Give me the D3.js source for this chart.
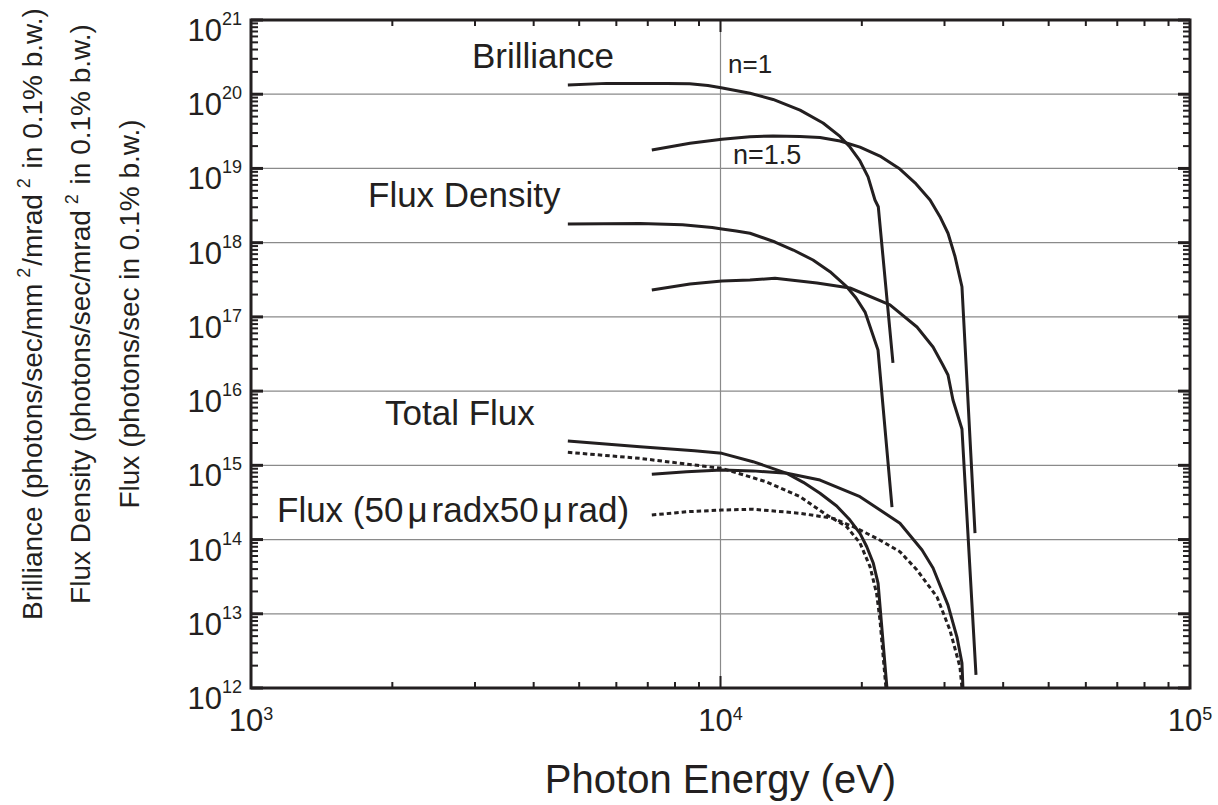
<!DOCTYPE html>
<html><head><meta charset="utf-8">
<script src="https://cdn.jsdelivr.net/npm/d3@7"></script>
<style>
body{margin:0;background:#fff}
text{font-family:"Liberation Sans",Arial,Helvetica,sans-serif;fill:#231f20}
</style>
</head><body>
<svg id="chart" width="1218" height="805"></svg>
<script>
// ---------- data ----------
const xDecades = [1e3, 1e4, 1e5];
const xExponents = ["3", "4", "5"];
const yDecades = [1e12,1e13,1e14,1e15,1e16,1e17,1e18,1e19,1e20,1e21];
const yExponents = ["12","13","14","15","16","17","18","19","20","21"];

const brillianceN1 = [[4730,1.33e20],[5720,1.40e20],[7690,1.40e20],[8600,1.38e20],[9400,1.31e20],[10030,1.22e20],[11560,1.03e20],[12940,8.5e19],[14770,6.1e19],[16535,4.1e19],[17970,2.7e19],[18870,1.94e19],[19820,1.26e19],[20620,7.7e18],[21330,3.76e18],[21680,3.05e18],[23300,2.4e16]];
const brillianceN15 = [[7140,1.77e19],[8610,2.18e19],[10070,2.47e19],[11555,2.67e19],[12940,2.74e19],[14770,2.69e19],[16290,2.61e19],[17970,2.34e19],[19820,1.94e19],[21860,1.47e19],[24110,9.8e18],[25960,6.4e18],[27950,3.76e18],[29340,2.24e18],[30520,1.34e18],[31590,6.5e17],[32680,2.55e17],[34840,1.22e14]];
const fluxDensityN1 = [[4730,1.78e18],[6740,1.81e18],[8300,1.74e18],[9600,1.6e18],[10070,1.53e18],[10800,1.44e18],[11555,1.34e18],[13065,1.02e18],[14290,7.96e17],[15740,5.84e17],[17110,4.06e17],[18590,2.53e17],[19440,1.8e17],[20320,1.16e17],[21650,3.58e16],[23190,2.74e14]];
const fluxDensityN15 = [[7140,2.3e17],[8610,2.77e17],[10070,3.04e17],[11555,3.14e17],[13065,3.31e17],[16050,2.86e17],[18870,2.45e17],[22960,1.45e17],[26210,7.3e16],[28360,3.93e16],[29700,2.3e16],[30520,1.65e16],[31270,7.6e15],[32680,3.09e15],[35010,1.5e12]];
const totalFluxN1 = [[4730,2.13e15],[6740,1.78e15],[8800,1.57e15],[10070,1.45e15],[11730,1.12e15],[13850,7.8e14],[15010,5.9e14],[16290,4.2e14],[17680,2.83e14],[18870,1.83e14],[19820,1.21e14],[20490,8.0e13],[21160,4.79e13],[21660,2.57e13],[22620,1e12]];
const totalFluxN15 = [[7140,7.57e14],[8470,8.2e14],[10070,8.65e14],[11730,8.42e14],[13850,7.8e14],[16290,6.34e14],[19820,3.78e14],[24110,1.66e14],[26870,7.23e13],[28360,4.14e13],[30520,1.31e13],[31890,4.86e12],[32680,2.17e12],[32840,1e12]];
const apertureFluxN1 = [[4730,1.5e15],[6740,1.24e15],[10070,9.1e14],[12520,6.0e14],[14770,3.78e14],[16840,2.14e14],[18570,1.49e14],[19820,8.98e13],[20820,4.31e13],[21500,1.88e13],[21860,8.24e12],[22510,1e12]];
const apertureFluxN15 = [[7140,2.14e14],[8470,2.37e14],[10070,2.5e14],[11730,2.56e14],[14770,2.26e14],[17390,1.93e14],[19170,1.49e14],[21510,1.04e14],[24110,6.86e13],[26210,3.89e13],[28920,1.68e13],[30810,6.04e12],[32360,1.92e12],[32680,1e12]];

const solidSeries = [brillianceN1, brillianceN15, fluxDensityN1, fluxDensityN15, totalFluxN1, totalFluxN15];
const dottedSeries = [apertureFluxN1, apertureFluxN15];

const yTitleLines = [
  [["Brilliance (photons/sec/mm",false],["2",true],["/mrad",false],["2",true],[" in 0.1% b.w.)",false]],
  [["Flux Density (photons/sec/mrad",false],["2",true],[" in 0.1% b.w.)",false]],
  [["Flux (photons/sec in 0.1% b.w.)",false]]
];
const xTitle = "Photon Energy (eV)";

// ---------- layout ----------
const L = 251, R = 1190, T = 20, B = 688;
const ink = "#231f20";
const svg = d3.select("#chart");
const x = d3.scaleLog().domain([1e3,1e5]).range([L,R]);
const y = d3.scaleLog().domain([1e12,1e21]).range([B,T]);

// grid
const g = svg.append("g");
g.selectAll(".gx").data(xDecades.slice(1,-1)).join("line")
  .attr("x1",d=>x(d)).attr("x2",d=>x(d)).attr("y1",T).attr("y2",B)
  .attr("stroke","#8a8a8a").attr("stroke-width",1.2);
g.selectAll(".gy").data(yDecades.slice(1,-1)).join("line")
  .attr("y1",d=>y(d)).attr("y2",d=>y(d)).attr("x1",L).attr("x2",R)
  .attr("stroke","#8a8a8a").attr("stroke-width",1.2);

// ticks
function minors(decs){const out=[];for(let i=0;i<decs.length-1;i++){for(let k=2;k<=9;k++)out.push(decs[i]*k);}return out;}
const xMin = minors(xDecades), yMin = minors(yDecades);
const tk = svg.append("g").attr("stroke",ink).attr("stroke-width",2);
[[B,-1],[T,1]].forEach(([yy,s])=>{
  tk.selectAll(null).data(xMin).join("line").attr("x1",d=>x(d)).attr("x2",d=>x(d)).attr("y1",yy).attr("y2",yy+s*6);
  tk.selectAll(null).data(xDecades).join("line").attr("x1",d=>x(d)).attr("x2",d=>x(d)).attr("y1",yy).attr("y2",yy+s*12);
});
[[L,1],[R,-1]].forEach(([xx,s])=>{
  tk.selectAll(null).data(yMin).join("line").attr("y1",d=>y(d)).attr("y2",d=>y(d)).attr("x1",xx).attr("x2",xx+s*7);
  tk.selectAll(null).data(yDecades).join("line").attr("y1",d=>y(d)).attr("y2",d=>y(d)).attr("x1",xx).attr("x2",xx+s*12).attr("stroke-width",3);
});

// curves
svg.append("clipPath").attr("id","pc").append("rect").attr("x",L).attr("y",T).attr("width",R-L).attr("height",B-T);
const line = d3.line().x(d=>x(d[0])).y(d=>y(d[1]));
const cg = svg.append("g").attr("clip-path","url(#pc)").attr("fill","none").attr("stroke",ink).attr("stroke-linejoin","round");
cg.selectAll(".s").data(solidSeries).join("path").attr("d",line).attr("stroke-width",3);
cg.selectAll(".d").data(dottedSeries).join("path").attr("d",line).attr("stroke-width",3).attr("stroke-dasharray","4.5,3");

// frame
svg.append("rect").attr("x",L).attr("y",T).attr("width",R-L).attr("height",B-T)
  .attr("fill","none").attr("stroke",ink).attr("stroke-width",3);

// tick labels
const yl = svg.append("g");
yDecades.forEach((d,i)=>{
  const t = yl.append("text").attr("x",242).attr("y",y(d)+21).attr("text-anchor","end").attr("font-size",31);
  t.append("tspan").text("10");
  t.append("tspan").attr("dy",-16).attr("font-size",18).text(yExponents[i]);
});
xDecades.forEach((d,i)=>{
  const t = yl.append("text").attr("x",x(d)).attr("y",731).attr("text-anchor","middle").attr("font-size",31);
  t.append("tspan").text("10");
  t.append("tspan").attr("dy",-11).attr("font-size",18).text(xExponents[i]);
});

// axis titles
svg.append("text").attr("x",(L+R)/2).attr("y",793).attr("text-anchor","middle").attr("font-size",40).text(xTitle);
const ybase = [42, 90, 139];
yTitleLines.forEach((parts,i)=>{
  const t = svg.append("text").attr("transform",`translate(${ybase[i]},314) rotate(-90)`)
    .attr("text-anchor","middle").attr("font-size",28);
  let prevSup = false;
  parts.forEach(([s,sup])=>{
    const ts = t.append("tspan").text(s);
    if(sup){ ts.attr("dy",-12).attr("dx",6).attr("font-size",18); }
    else if(prevSup){ ts.attr("dy",12).attr("dx",2); }
    prevSup = sup;
  });
});

// annotations
const ann = svg.append("g").attr("font-size",35);
ann.append("text").attr("x",472).attr("y",68).text("Brilliance");
ann.append("text").attr("x",368).attr("y",207).text("Flux Density");
ann.append("text").attr("x",385).attr("y",425).text("Total Flux");
const fa = ann.append("text").attr("x",277).attr("y",522);
fa.append("tspan").text("Flux (50");
fa.append("tspan").attr("dx",4).text("μ");
fa.append("tspan").attr("dx",4).text("radx50");
fa.append("tspan").attr("dx",4).text("μ");
fa.append("tspan").attr("dx",4).text("rad)");
svg.append("text").attr("x",728).attr("y",73).attr("font-size",26).text("n=1");
svg.append("text").attr("x",733).attr("y",164).attr("font-size",27).text("n=1.5");
</script>
</body></html>
